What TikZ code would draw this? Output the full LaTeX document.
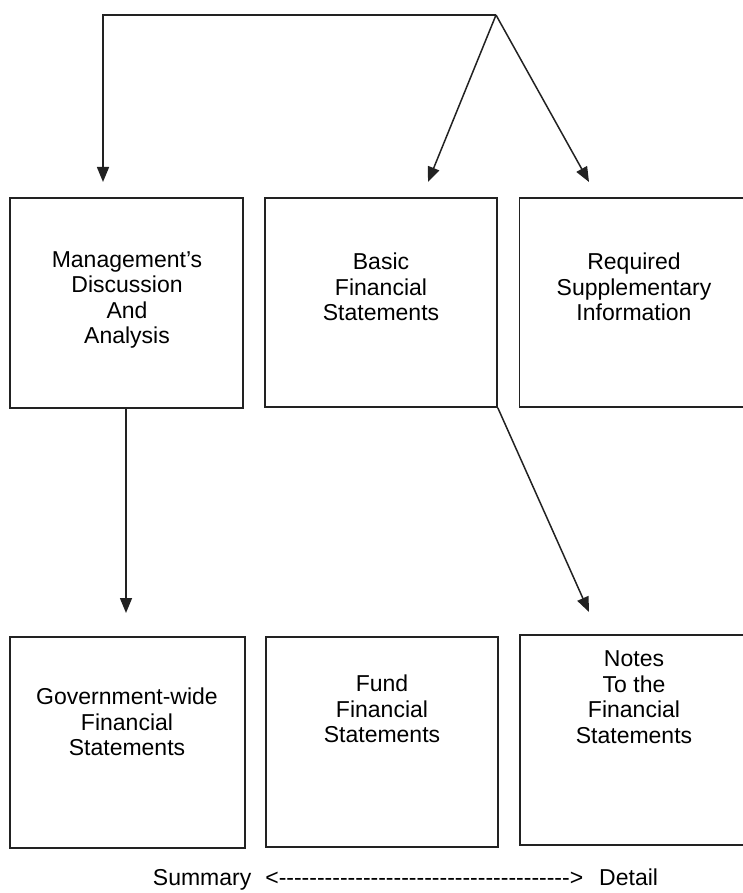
\documentclass[tikz,border=0pt]{standalone}
\usepackage{fontspec}
\setmainfont{Liberation Sans}[Ligatures=TeXOff]
\usepackage{tikz}
\usetikzlibrary{arrows.meta}
\usetikzlibrary{calc}
\definecolor{inkcolor}{HTML}{222222}

\tikzset{
  fbox/.style={draw=inkcolor, line width=0.8pt, inner sep=0pt},
  ftext/.style={align=center, inner sep=0pt, font=\fontsize{11.5}{12.8}\selectfont},
  conn/.style={draw=inkcolor, line width=0.75pt, -{Triangle[length=7.5pt,width=6pt]}}
}

\begin{document}
\begin{tikzpicture}[x=0.5pt,y=-0.5pt]
  \useasboundingbox (0,0) rectangle (743,893);
  %% top row of statements
  \node[fbox, minimum width=116.5pt, minimum height=105pt] (mda) at (126.5,303) {};
  \node[fbox, minimum width=116pt, minimum height=104.5pt] (bfs) at (381,302.5) {};
  \node[fbox, minimum width=116.5pt, minimum height=104.5pt] (rsi) at (636,302.5) {};
  \node[ftext] (mdatext) at (127,300) {Management’s\\Discussion\\And\\Analysis};
  \node[ftext] (bfstext) at (381,287) {Basic\\Financial\\Statements};
  \node[ftext] (rsitext) at (634,287) {Required\\Supplementary\\Information};
  %% bottom row
  \node[fbox, minimum width=117.5pt, minimum height=105.5pt] (gwfs) at (127.5,742.5) {};
  \node[fbox, minimum width=116pt, minimum height=105pt] (ffs) at (382,742) {};
  \node[fbox, minimum width=116.5pt, minimum height=105pt] (notes) at (636.5,740) {};
  \node[ftext] (gwfstext) at (127,722) {Government-wide\\Financial\\Statements};
  \node[ftext] (ffstext) at (382,709) {Fund\\Financial\\Statements};
  \node[ftext] (notestext) at (634,697) {Notes\\To the\\Financial\\Statements};
  %% connectors
  \coordinate (hub) at (496,15);
  \coordinate (corner) at (103,15);
  \coordinate (mdatip) at (103,182);
  \coordinate (bfstip) at (428,182);
  \coordinate (rsitip) at (589,182);
  \coordinate (gwfstip) at (126,613);
  \coordinate (notestip) at (589,612);
  \draw[conn] (hub) -- (corner) -- (mdatip);
  \draw[conn] (hub) -- (bfstip);
  \draw[conn] (hub) -- (rsitip);
  \draw[conn] (mda.south -| gwfstip) -- (gwfstip);
  \draw[conn] (bfs.south east) -- (notestip);
  %% summary / detail scale
  \node[ftext] (scale) at (405.5,880) {Summary\hspace{7pt}<-------------------------------------->\hspace{8pt}Detail};
\end{tikzpicture}
\end{document}
